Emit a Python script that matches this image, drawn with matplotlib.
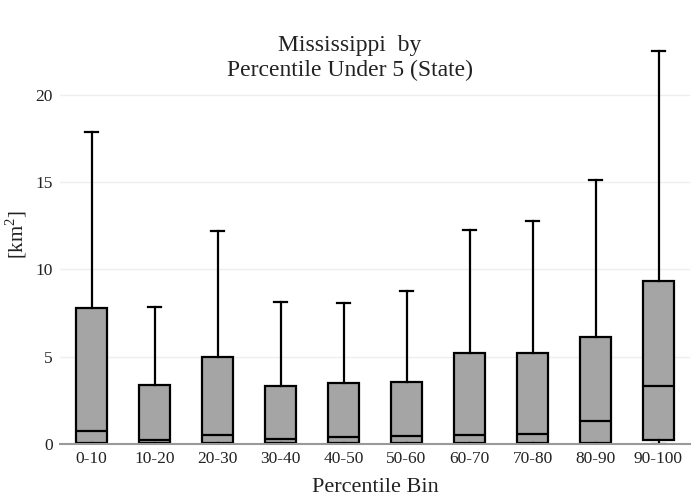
import matplotlib.pyplot as plt

plt.rcParams['font.family'] = ['Liberation Serif', 'DejaVu Serif']
plt.rcParams['mathtext.fontset'] = 'custom'
plt.rcParams['mathtext.rm'] = 'Liberation Serif'

bins = ['0-10', '10-20', '20-30', '30-40', '40-50', '50-60', '60-70', '70-80', '80-90', '90-100']
whisker_low = [0.0, 0.0, 0.0, 0.0, 0.0, 0.0, 0.0, 0.0, 0.0, 0.0]
q1 = [0.03, 0.03, 0.03, 0.03, 0.03, 0.03, 0.03, 0.03, 0.05, 0.25]
medians = [0.74, 0.23, 0.53, 0.30, 0.38, 0.44, 0.53, 0.59, 1.34, 3.34]
q3 = [7.79, 3.38, 4.99, 3.32, 3.50, 3.54, 5.21, 5.21, 6.13, 9.34]
whisker_high = [17.88, 7.85, 12.2, 8.14, 8.08, 8.77, 12.26, 12.76, 15.11, 22.52]

stats = []
for i in range(len(bins)):
    stats.append({'whislo': whisker_low[i], 'q1': q1[i], 'med': medians[i],
                  'q3': q3[i], 'whishi': whisker_high[i], 'fliers': []})

fig = plt.figure(figsize=(7, 5), dpi=100)
ax = fig.add_axes([60/700, 56/500, 630/700, 404/500])

ax.bxp(stats, positions=range(len(bins)), widths=0.5, patch_artist=True,
       showfliers=False,
       boxprops=dict(facecolor='#a5a5a5', edgecolor='black', linewidth=1.6),
       medianprops=dict(color='black', linewidth=1.6),
       whiskerprops=dict(color='black', linewidth=1.6),
       capprops=dict(color='black', linewidth=1.6),
       capwidths=0.22)

ax.set_xlim(-0.5, len(bins) - 0.5)
ax.set_ylim(0, 23.15)
ax.set_xticks(range(len(bins)))
ax.set_xticklabels(bins)
ax.set_yticks([0, 5, 10, 15, 20])
ax.tick_params(axis='both', length=0, labelsize=12.5, colors='#222222', pad=5)

ax.grid(axis='y', color='#eeeeee', linewidth=1)
ax.set_axisbelow(True)
for s in ['top', 'right', 'left']:
    ax.spines[s].set_visible(False)
ax.spines['bottom'].set_color('#999999')
ax.spines['bottom'].set_linewidth(1.5)

# title is centred on the figure, not the plot area
fig.text(0.5, 1 - 58/500, 'Mississippi  by\nPercentile Under 5 (State)', fontsize=17,
         color='#222222', ha='center', va='center', linespacing=1.27)
fig.text(375/700, 1 - 487/500, 'Percentile Bin', fontsize=16, color='#222222',
         ha='center', va='center')
fig.text(16/700, 1 - 234/500, '[km$^2$]', fontsize=15, color='#222222',
         ha='center', va='center', rotation=90)

fig.savefig('out.png', dpi=100)
